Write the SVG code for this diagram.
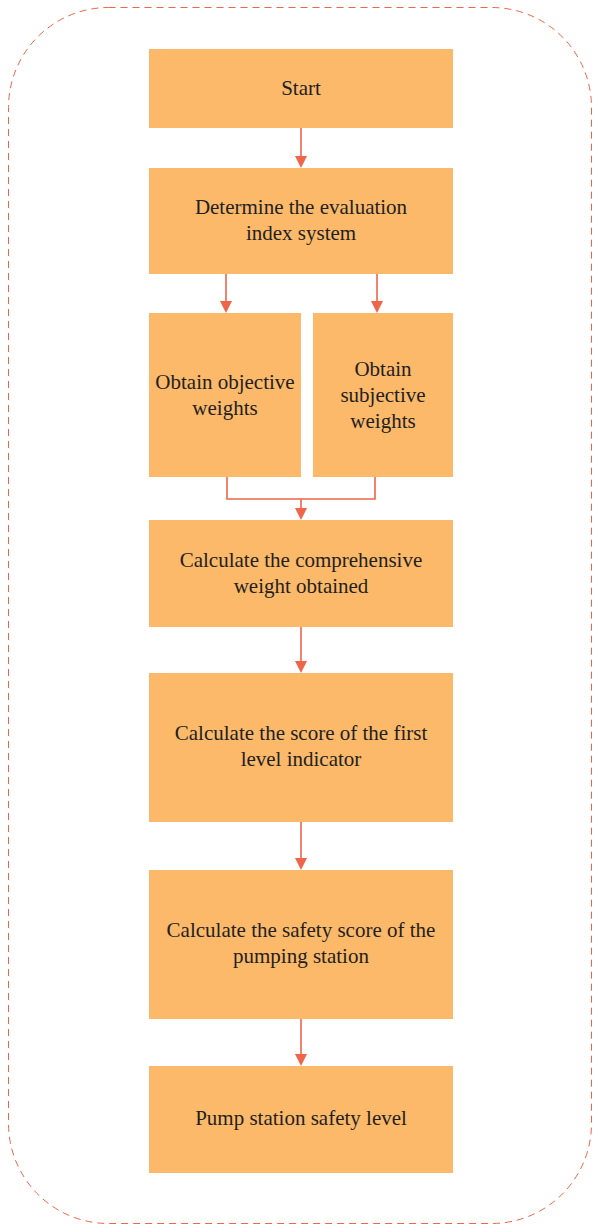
<svg xmlns="http://www.w3.org/2000/svg" width="593" height="1226" viewBox="0 0 593 1226">
<defs>
<style>
.box{fill:#fcb96a;}
.t{font-family:"Liberation Serif",serif;font-size:21px;fill:#231f20;text-anchor:middle;}
.c{fill:none;stroke:#ee6549;stroke-width:1.6;}
.ah{fill:#ee6549;}
</style>
</defs>
<rect x="8.5" y="7.5" width="583" height="1216" rx="100" ry="100" fill="none" stroke="#ee6549" stroke-width="1" stroke-dasharray="7,5"/>
<g id="connectors">
<line class="c" x1="301" y1="128" x2="301" y2="158"/>
<path class="ah" d="M295,156 L307,156 L301,168 Z"/>
<line class="c" x1="226" y1="274" x2="226" y2="303"/>
<path class="ah" d="M220,301 L232,301 L226,313 Z"/>
<line class="c" x1="377" y1="274" x2="377" y2="303"/>
<path class="ah" d="M371,301 L383,301 L377,313 Z"/>
<path class="c" d="M227,477 V499 H375 V477"/>
<line class="c" x1="301" y1="499" x2="301" y2="510"/>
<path class="ah" d="M295,508 L307,508 L301,520 Z"/>
<line class="c" x1="301" y1="627" x2="301" y2="663"/>
<path class="ah" d="M295,661 L307,661 L301,673 Z"/>
<line class="c" x1="301" y1="822" x2="301" y2="860"/>
<path class="ah" d="M295,858 L307,858 L301,870 Z"/>
<line class="c" x1="301" y1="1019" x2="301" y2="1056"/>
<path class="ah" d="M295,1054 L307,1054 L301,1066 Z"/>
</g>
<g id="start">
<rect class="box" x="149" y="49" width="304" height="79"/>
<text class="t" x="301" y="95">Start</text>
</g>
<g id="determine">
<rect class="box" x="149" y="168" width="304" height="106"/>
<text class="t" x="301" y="214">Determine the evaluation</text>
<text class="t" x="301" y="240">index system</text>
</g>
<g id="objective">
<rect class="box" x="149" y="313" width="152" height="164"/>
<text class="t" x="225" y="389">Obtain objective</text>
<text class="t" x="225" y="415">weights</text>
</g>
<g id="subjective">
<rect class="box" x="313" y="313" width="140" height="164"/>
<text class="t" x="383" y="376">Obtain</text>
<text class="t" x="383" y="402">subjective</text>
<text class="t" x="383" y="428">weights</text>
</g>
<g id="comprehensive">
<rect class="box" x="149" y="520" width="304" height="107"/>
<text class="t" x="301" y="567">Calculate the comprehensive</text>
<text class="t" x="301" y="593">weight obtained</text>
</g>
<g id="firstlevel">
<rect class="box" x="149" y="673" width="304" height="149"/>
<text class="t" x="301" y="740">Calculate the score of the first</text>
<text class="t" x="301" y="766">level indicator</text>
</g>
<g id="safetyscore">
<rect class="box" x="149" y="870" width="304" height="149"/>
<text class="t" x="301" y="937">Calculate the safety score of the</text>
<text class="t" x="301" y="963">pumping station</text>
</g>
<g id="level">
<rect class="box" x="149" y="1066" width="304" height="107"/>
<text class="t" x="301" y="1125">Pump station safety level</text>
</g>
</svg>
